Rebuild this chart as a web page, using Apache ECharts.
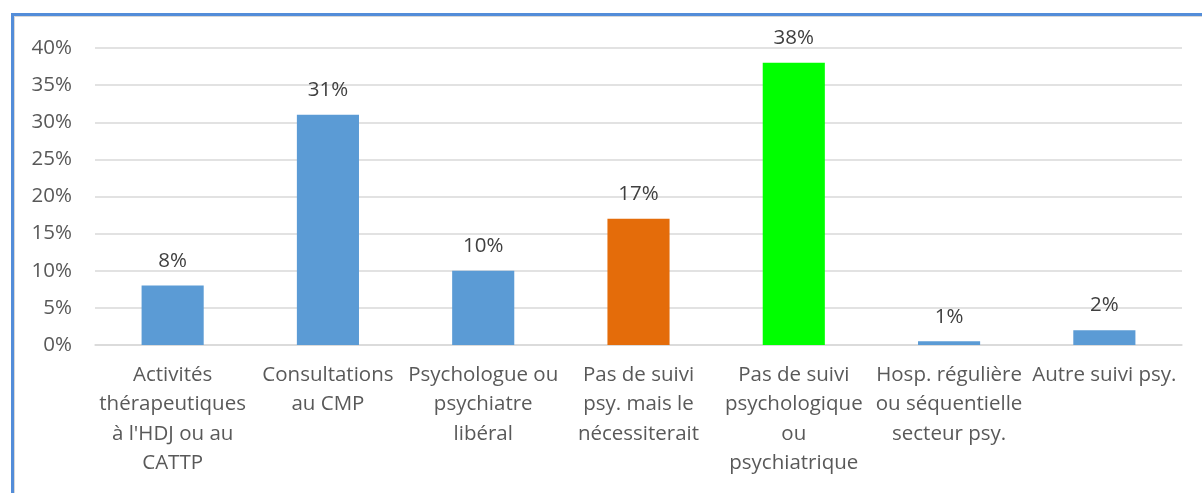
<!DOCTYPE html>
<html>
<head>
<meta charset="utf-8">
<script src="https://cdn.jsdelivr.net/npm/echarts@6/dist/echarts.min.js"></script>
<style>
  html, body { margin: 0; padding: 0; background: #fff; }
  #frame {
    position: absolute; left: 11px; top: 13px; width: 1200px; height: 490px;
    border-left: 3px solid #538DD9; border-top: 3px solid #538DD9;
    box-shadow: inset 1px 1px 0 #d8d8d8;
  }
  #chart { position: absolute; left: 0; top: 0; width: 1202px; height: 493px; }
</style>
</head>
<body>
<div id="frame"></div>
<div id="chart"></div>
<script>
const categories = [
  'Activités\nthérapeutiques\nà l\'HDJ ou au\nCATTP',
  'Consultations\nau CMP',
  'Psychologue ou\npsychiatre\nlibéral',
  'Pas de suivi\npsy. mais le\nnécessiterait',
  'Pas de suivi\npsychologique\nou\npsychiatrique',
  'Hosp. régulière\nou séquentielle\nsecteur psy.',
  'Autre suivi psy.'
]
const values = [8, 31, 10, 17, 38, 0.5, 2]
const barColors = ['#5B9BD5', '#5B9BD5', '#5B9BD5', '#E46C0A', '#00FF00', '#5B9BD5', '#5B9BD5']
const yTicks = [0, 5, 10, 15, 20, 25, 30, 35, 40]

const chart = echarts.init(document.getElementById('chart'))
const font = '"Open Sans", "Noto Sans", sans-serif'

chart.setOption({
  animation: false,
  textStyle: { fontFamily: font },
  grid: { left: 95, right: 20, top: 48, bottom: 148 },
  xAxis: {
    type: 'category',
    data: categories,
    axisLine: { show: true, lineStyle: { color: '#D9D9D9', width: 1.5 } },
    axisTick: { show: false },
    axisLabel: {
      interval: 0,
      color: '#595959',
      fontSize: 20.5,
      lineHeight: 29.5,
      margin: 15,
      fontFamily: font
    }
  },
  yAxis: {
    type: 'value',
    min: yTicks[0],
    max: yTicks[yTicks.length - 1],
    interval: 5,
    axisLine: { show: false },
    axisTick: { show: false },
    splitLine: { lineStyle: { color: '#D9D9D9', width: 1.5 } },
    axisLabel: {
      color: '#595959',
      fontSize: 20.5,
      margin: 23,
      fontFamily: font,
      formatter: v => v + '%'
    }
  },
  series: [{
    type: 'bar',
    barWidth: '40%',
    data: values.map((v, i) => ({ value: v, itemStyle: { color: barColors[i] } })),
    label: {
      show: true,
      position: 'top',
      distance: 14,
      color: '#404040',
      fontSize: 20.5,
      fontFamily: font,
      formatter: p => Math.round(p.value) + '%'
    }
  }]
})
</script>
</body>
</html>
